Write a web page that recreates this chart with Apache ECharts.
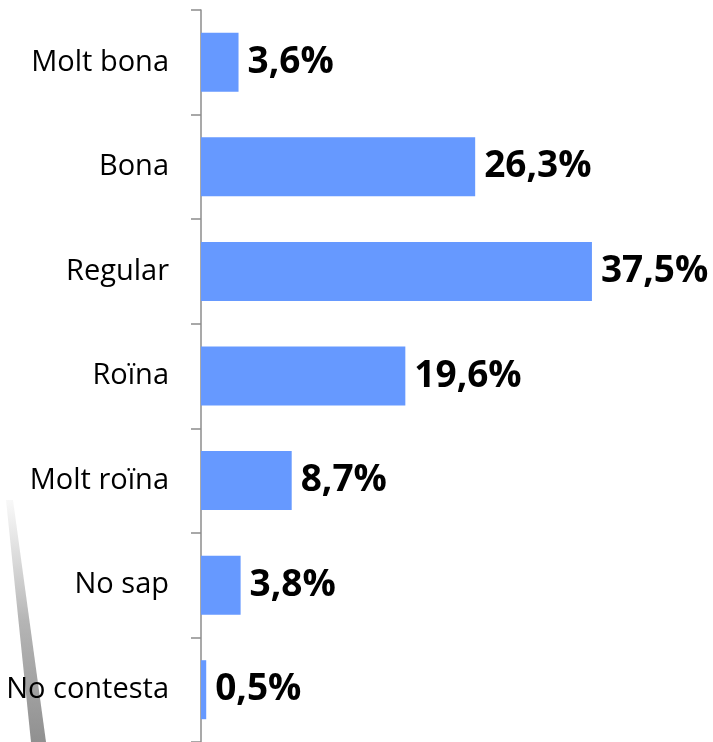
<!DOCTYPE html>
<html>
<head>
<meta charset="utf-8">
<script src="https://cdn.jsdelivr.net/npm/echarts@6/dist/echarts.min.js"></script>
<style>
  html, body { margin: 0; padding: 0; background: #fff; }
  #chart { width: 713px; height: 742px; }
</style>
</head>
<body>
<div id="chart"></div>
<script>
const categories = ['Molt bona', 'Bona', 'Regular', 'Roïna', 'Molt roïna', 'No sap', 'No contesta'];
const values = [3.6, 26.3, 37.5, 19.6, 8.7, 3.8, 0.5];

const chart = echarts.init(document.getElementById('chart'));

chart.setOption({
    backgroundColor: '#fff',
    animation: false,
    graphic: [
        {
            // faint streak of the background picture
            type: 'polygon',
            z: -10,
            shape: { points: [[6, 500], [13, 500], [46, 742], [31, 742]] },
            style: {
                fill: new echarts.graphic.LinearGradient(0, 0, 0, 1, [
                    { offset: 0, color: 'rgba(120,120,120,0.05)' },
                    { offset: 0.5, color: 'rgba(90,90,90,0.45)' },
                    { offset: 1, color: 'rgba(70,70,70,0.6)' }
                ])
            }
        }
    ],
    grid: {
        left: 201,
        right: 95,
        top: 10,
        bottom: -4
    },
    xAxis: {
        type: 'value',
        min: 0,
        max: 40,
        show: false,
        splitLine: { show: false }
    },
    yAxis: {
        type: 'category',
        data: categories,
        inverse: true,
        axisLine: {
            show: true,
            lineStyle: { color: '#8c8c8c', width: 1.5 }
        },
        axisTick: {
            show: true,
            length: 10,
            lineStyle: { color: '#8c8c8c', width: 1.5 }
        },
        axisLabel: {
            margin: 32,
            color: '#000',
            fontSize: 29,
            fontFamily: 'Open Sans',
            padding: [4, 0, 0, 0]
        }
    },
    series: [
        {
            type: 'bar',
            data: values,
            barWidth: 59,
            itemStyle: { color: '#6699FF' },
            label: {
                show: true,
                position: 'right',
                distance: 9,
                color: '#000',
                fontSize: 37,
                fontWeight: 'bold',
                fontFamily: 'Open Sans',
                padding: [4, 0, 0, 0],
                formatter: p => String(p.value).replace('.', ',') + '%'
            }
        }
    ]
});
</script>
</body>
</html>
